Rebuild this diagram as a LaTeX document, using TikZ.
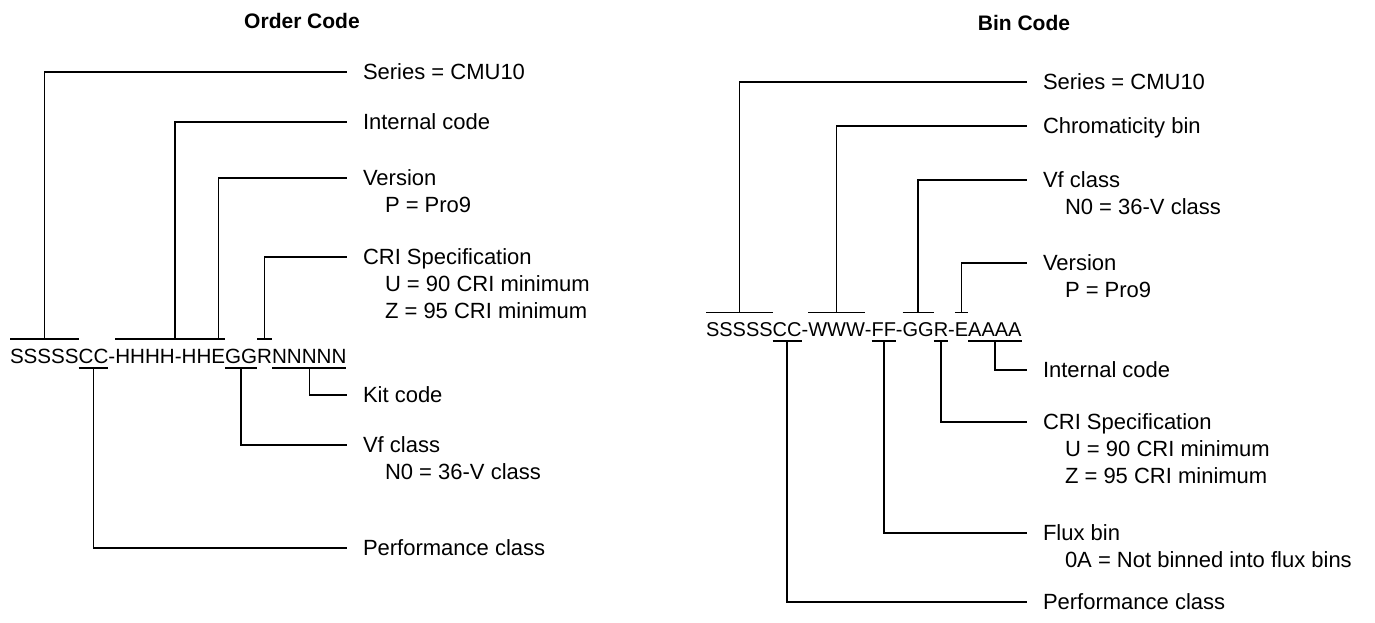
\documentclass[tikz,border=0pt]{standalone}
\usepackage{fontspec}
\setmainfont{Liberation Sans}
\usetikzlibrary{calc}

\begin{document}
\begin{tikzpicture}[x=1pt, y=-1pt, line width=1.5pt]
	\tikzstyle{heading} = [font=\bfseries\fontsize{21}{25}\selectfont, inner sep=0pt]
	\tikzstyle{code}    = [anchor=base west, inner sep=0pt, outer sep=0pt, text height=14.8pt, text depth=0pt, font=\fontsize{20.6}{24}\selectfont]
	\tikzstyle{codeB}   = [code, text height=14.3pt, font=\fontsize{20}{24}\selectfont]
	\tikzstyle{lbl}     = [anchor=west, inner xsep=16pt, inner ysep=0pt, outer sep=0pt, text height=15.8pt, text depth=0pt, font=\fontsize{22}{27}\selectfont]

	\useasboundingbox (0,0) rectangle (1375,623);

	% order code
	\node[heading] (otitle) at (302,21) {Order Code};

	\node[code] (L1) at (10,363) {SSSSS};
	\foreach \i/\j/\t in {2/1/CC, 3/2/-, 4/3/HHHH-HH, 5/4/E, 6/5/GG, 7/6/R, 8/7/NNNNN}
		\node[code] (L\i) at (L\j.base east) {\t};

	\foreach \name/\y/\txt in {lser/72/Series = CMU10, lint/122/Internal code, lver/178/Version, lcri/257/CRI Specification, lkit/395/Kit code, lvf/445/Vf class, lperf/548/Performance class}
		\node[lbl] (\name) at (347,\y) {\txt};

	\foreach \name/\base/\k/\txt in {lverp/lver/1/P = Pro9, lcriu/lcri/1/U = 90 CRI minimum, lcriz/lcri/2/Z = 95 CRI minimum, lvfn/lvf/1/N0 = 36-V class}
		\node[lbl] (\name) at ([shift={(22pt,{-27pt*\k})}]\base.west) {\txt};

	\foreach \seg/\f/\lab in {L1/0.5/lser, L4/0.62/lint, L5/0.5/lver, L7/0.5/lcri} {
		\draw ([yshift=9pt]\seg.north west) -- ([yshift=9pt]\seg.north east);
		\draw ($([yshift=9pt]\seg.north west)!\f!([yshift=9pt]\seg.north east)$) |- (\lab.west);
	}
	\foreach \seg/\lab in {L2/lperf, L6/lvf, L8/lkit} {
		\draw ([yshift=-5pt]\seg.south west) -- ([yshift=-5pt]\seg.south east);
		\draw ([yshift=-5pt]\seg.south) |- (\lab.west);
	}

	% bin code
	\node[heading] (btitle) at (1024,23) {Bin Code};

	\node[codeB] (R1) at (706,336) {SSSSS};
	\foreach \i/\j/\t in {2/1/CC, 3/2/-, 4/3/WWW, 5/4/-, 6/5/FF, 7/6/-, 8/7/GG, 9/8/R, 10/9/-, 11/10/E, 12/11/AAAA}
		\node[codeB] (R\i) at (R\j.base east) {\t};

	\foreach \name/\y/\txt in {rser/82/Series = CMU10, rchr/126/Chromaticity bin, rvf/180/Vf class, rver/263/Version, rint/370/Internal code, rcri/422/CRI Specification, rflux/533/Flux bin, rperf/602/Performance class}
		\node[lbl] (\name) at (1027,\y) {\txt};

	\foreach \name/\base/\k/\txt in {rvfn/rvf/1/N0 = 36-V class, rverp/rver/1/P = Pro9, rcriu/rcri/1/U = 90 CRI minimum, rcriz/rcri/2/Z = 95 CRI minimum, rfluxa/rflux/1/0A = Not binned into flux bins}
		\node[lbl] (\name) at ([shift={(22pt,{-27pt*\k})}]\base.west) {\txt};

	\foreach \seg/\lab in {R1/rser, R4/rchr, R8/rvf, R11/rver} {
		\draw ([yshift=9pt]\seg.north west) -- ([yshift=9pt]\seg.north east);
		\draw ([yshift=9pt]\seg.north) |- (\lab.west);
	}
	\foreach \seg/\lab in {R2/rperf, R6/rflux, R9/rcri, R12/rint} {
		\draw ([yshift=-5pt]\seg.south west) -- ([yshift=-5pt]\seg.south east);
		\draw ([yshift=-5pt]\seg.south) |- (\lab.west);
	}

\end{tikzpicture}
\end{document}
